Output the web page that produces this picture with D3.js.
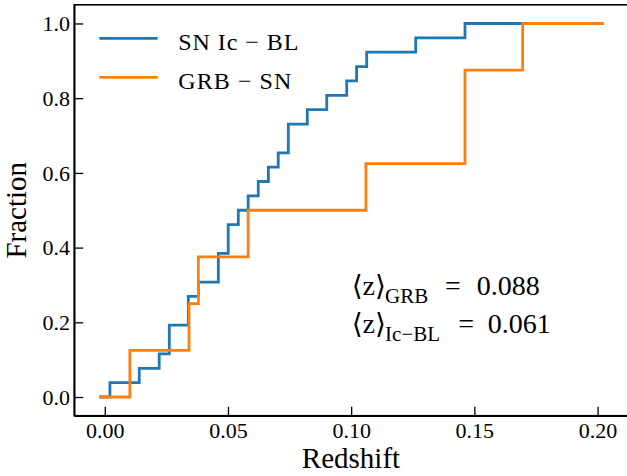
<!DOCTYPE html>
<html>
<head>
<meta charset="utf-8">
<script src="https://cdn.jsdelivr.net/npm/d3@7"></script>
<style>
    body { margin: 0; background: #fff; }
    svg { display: block; }
</style>
</head>
<body>
<script>
// sorted redshifts
var snIcBL = [0.0021, 0.0140, 0.0221, 0.0262, 0.0262, 0.0339, 0.0339, 0.0380, 0.0461, 0.0461,
              0.0501, 0.0501, 0.0542, 0.0582, 0.0623, 0.0664, 0.0704, 0.0745, 0.0745, 0.0822,
              0.0901, 0.0982, 0.1022, 0.1063, 0.1262, 0.1462];
var grbSN = [0.0102, 0.0342, 0.0380, 0.0582, 0.1060, 0.1462, 0.1462, 0.1696];
var zStart = -0.0022;
var zEnd = 0.2026;

var seriesNames = ["SN Ic \u2212 BL", "GRB \u2212 SN"];
var xTicks = [0.00, 0.05, 0.10, 0.15, 0.20];
var yTicks = [0.0, 0.2, 0.4, 0.6, 0.8, 1.0];
var meanLabels = [["GRB", "0.088"], ["Ic\u2212BL", "0.061"]];

var W = 627, H = 476;
var margin = { top: 4.8, right: -2.1, bottom: 60.3, left: 74.2 };
var width = W - margin.left - margin.right;
var height = H - margin.top - margin.bottom;
var color = ["#1f77b4", "#ff7f0e"];
var serif = "'Liberation Serif', 'Times New Roman', Times, 'DejaVu Serif', serif";

function cdfPoints(z) {
    var pts = [[zStart, 0]];
    for (var i = 0; i < z.length; i++) {
        pts.push([z[i], (i + 1) / z.length]);
    }
    pts.push([zEnd, 1]);
    return pts;
}

var svg = d3.select("body").append("svg")
    .attr("width", W)
    .attr("height", H)
    .style("font-family", serif);

var x = d3.scaleLinear()
    .domain([-0.0124, 0.2128])
    .range([margin.left, margin.left + width]);
var y = d3.scaleLinear()
    .domain([-0.05, 1.05])
    .range([margin.top + height, margin.top]);

var line = d3.line()
    .curve(d3.curveStepAfter)
    .x(function (d) { return x(d[0]); })
    .y(function (d) { return y(d[1]); });

[snIcBL, grbSN].forEach(function (z, i) {
    svg.append("path")
        .datum(cdfPoints(z))
        .attr("fill", "none")
        .attr("stroke", color[i])
        .attr("stroke-width", 2.8)
        .attr("d", line);
});

// frame
svg.append("rect")
    .attr("x", margin.left)
    .attr("y", margin.top)
    .attr("width", width)
    .attr("height", height)
    .attr("fill", "none")
    .attr("stroke", "#000")
    .attr("stroke-width", 1.6);

var xAxis = d3.axisBottom(x)
    .tickValues(xTicks)
    .tickFormat(d3.format(".2f"))
    .tickSize(-9)
    .tickSizeOuter(0);
var yAxis = d3.axisLeft(y)
    .tickValues(yTicks)
    .tickFormat(d3.format(".1f"))
    .tickSize(-9)
    .tickSizeOuter(0);

var gX = svg.append("g")
    .attr("transform", "translate(0," + (margin.top + height) + ")")
    .call(xAxis);
gX.selectAll("text")
    .attr("y", 22.8)
    .attr("dy", null);

var gY = svg.append("g")
    .attr("transform", "translate(" + margin.left + ",0)")
    .call(yAxis);
gY.selectAll("text")
    .attr("x", -4.2)
    .attr("dy", "0.33em");

svg.selectAll(".domain").attr("stroke-width", 1.6);
svg.selectAll(".tick line").attr("stroke-width", 1.3);
svg.selectAll(".tick text")
    .attr("fill", "#000")
    .style("font-family", serif)
    .style("font-size", "22px");
gX.attr("font-family", null).attr("font-size", null);
gY.attr("font-family", null).attr("font-size", null);

// axis labels
svg.append("text")
    .attr("x", 351)
    .attr("y", 468.3)
    .attr("text-anchor", "middle")
    .style("font-family", serif)
    .style("font-size", "29px")
    .text("Redshift");

svg.append("text")
    .attr("transform", "translate(26," + (margin.top + height / 2) + ") rotate(-90)")
    .attr("text-anchor", "middle")
    .style("font-family", serif)
    .style("font-size", "29px")
    .text("Fraction");

// legend
var legend = svg.append("g");
seriesNames.forEach(function (name, i) {
    var ly = 38.3 + i * 39;
    legend.append("line")
        .attr("x1", 99.3).attr("x2", 157.7)
        .attr("y1", ly).attr("y2", ly)
        .attr("stroke", color[i])
        .attr("stroke-width", 2.8);
    legend.append("text")
        .attr("x", 178.3)
        .attr("y", ly + 11.5)
        .attr("textLength", i == 0 ? 120 : 113)
        .attr("lengthAdjust", "spacing")
        .style("font-family", serif)
        .style("font-size", "24px")
        .text(name);
});

// mean redshift annotation
meanLabels.forEach(function (m, i) {
    var by = 295 + i * 38.3;
    var t = svg.append("text")
        .attr("x", 351.7)
        .attr("y", by)
        .style("font-family", serif)
        .style("font-size", "28px");
    t.append("tspan").text("\u27e8z\u27e9");
    t.append("tspan")
        .attr("x", 385)
        .attr("y", by + 7.7)
        .style("font-size", "21px")
        .text(m[0]);
    t.append("tspan")
        .attr("x", i == 0 ? 445 : 458.3)
        .attr("y", by)
        .text("=");
    t.append("tspan")
        .attr("x", i == 0 ? 476.7 : 487.7)
        .attr("y", by)
        .text(m[1]);
});
</script>
</body>
</html>
